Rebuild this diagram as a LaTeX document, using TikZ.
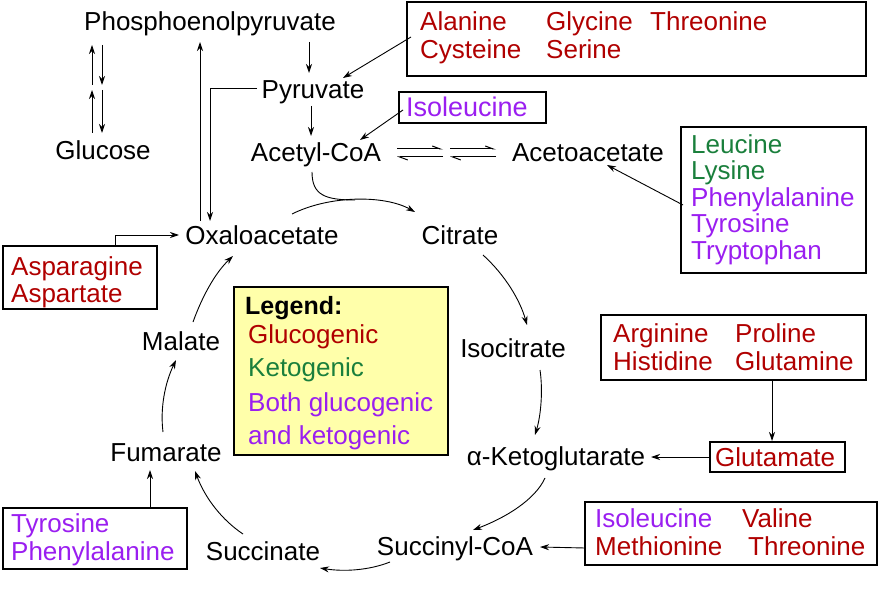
\documentclass[tikz,border=0pt]{standalone}
\usepackage{fontspec}
\setmainfont{Liberation Sans}
\usetikzlibrary{arrows.meta}
\definecolor{gr}{HTML}{B00000}
\definecolor{kt}{HTML}{1A7F3C}
\definecolor{bo}{HTML}{9A1EF0}
\definecolor{lg}{HTML}{FFFFAA}
\begin{document}
\begin{tikzpicture}[x=1pt,y=-1pt,
  every node/.style={font=\fontsize{26}{28}\selectfont,inner sep=0pt},
  t/.style={anchor=base},
  l/.style={anchor=base west},
  box/.style={draw,line width=1.2pt},
  a/.style={line width=0.9pt,-{Stealth[length=9pt,width=6pt]}},
  h/.style={line width=1pt,-{Straight Barb[left,length=8pt,width=6pt]}}]
\useasboundingbox (0,0) rectangle (886,596);
% metabolites
\node[t] (pep) at (210,31) {Phosphoenolpyruvate};
\node[t] (pyr) at (313,99) {Pyruvate};
\node[t] (acc) at (316,162) {Acetyl-CoA};
\node[t] (aca) at (588,162) {Acetoacetate};
\node[t] (glc) at (103,160) {Glucose};
\node[t] (oxa) at (262,244) {Oxaloacetate};
\node[t] (cit) at (460,244) {Citrate};
\node[t] (iso) at (513,357) {Isocitrate};
\node[t] (akg) at (556,465) {α-Ketoglutarate};
\node[t] (suc) at (455,555) {Succinyl-CoA};
\node[t] (sca) at (263,560) {Succinate};
\node[t] (fum) at (166,461) {Fumarate};
\node[t] (mal) at (181,350) {Malate};
% boxes
\draw[box] (407,2) rectangle (866,76);
\node[l,gr] (ala) at (420,31) {Alanine};
\node[l,gr] (gly) at (546,31) {Glycine};
\node[l,gr] (thr) at (650,31) {Threonine};
\node[l,gr] (cys) at (420,59) {Cysteine};
\node[l,gr] (ser) at (546,59) {Serine};
\draw[box] (399,92) rectangle (546,123);
\node[l,bo,font=\fontsize{27}{29}\selectfont] (ile1) at (406,117) {Isoleucine};
\draw[box] (681,127) rectangle (866,273);
\node[l,kt] (leu) at (691,154) {Leucine};
\node[l,kt] (lys) at (691,180) {Lysine};
\node[l,bo] (phe) at (691,207) {Phenylalanine};
\node[l,bo] (tyr) at (691,233) {Tyrosine};
\node[l,bo] (trp) at (691,259) {Tryptophan};
\draw[box] (3,246) rectangle (157,309);
\node[l,gr] (asn) at (11,275) {Asparagine};
\node[l,gr] (asp) at (11,302) {Aspartate};
\draw[box,fill=lg] (234,287) rectangle (448,455);
\node[l,font=\fontsize{25}{27}\selectfont\bfseries] (leg) at (245,314) {Legend:};
\node[l,gr] (lg1) at (248,343) {Glucogenic};
\node[l,kt] (lg2) at (248,376) {Ketogenic};
\node[l,bo] (lg3) at (248,411) {Both glucogenic};
\node[l,bo] (lg4) at (248,444) {and ketogenic};
\draw[box] (601,315) rectangle (866,380);
\node[l,gr] (arg) at (613,342) {Arginine};
\node[l,gr] (pro) at (735,342) {Proline};
\node[l,gr] (his) at (613,370) {Histidine};
\node[l,gr] (gln) at (735,370) {Glutamine};
\draw[box] (710,442) rectangle (845,472);
\node[l,gr] (glu) at (715,466) {Glutamate};
\draw[box] (585,502) rectangle (877,565);
\node[l,bo] (ile2) at (595,527) {Isoleucine};
\node[l,gr] (val) at (742,527) {Valine};
\node[l,gr] (met) at (595,555) {Methionine};
\node[l,gr] (thr2) at (748,555) {Threonine};
\draw[box] (3,508) rectangle (187,569);
\node[l,bo] (tyr2) at (11,532) {Tyrosine};
\node[l,bo] (phe2) at (11,560) {Phenylalanine};
% arrows
\draw[a] (309,42) -- (309,73);
\draw[a] (311,106) -- (311,136);
\draw[a] (257,88) -- (210,88) -- (210,221);
\draw[a] (200,221) -- (200,42);
\draw[a] (92,85) -- (92,45);
\draw[a] (102,45) -- (102,85);
\draw[a] (92,133) -- (92,90);
\draw[a] (102,90) -- (102,133);
\draw[a] (411,37) -- (343,78);
\draw[a] (403,110) -- (360,140);
\draw[h] (397,149) -- (443,149);
\draw[h] (443,157) -- (397,157);
\draw[h] (450,149) -- (496,149);
\draw[h] (496,157) -- (450,157);
\draw[a] (683,205) -- (607,165);
\draw[line width=0.9pt] (312,172) .. controls (312,195) and (325,200) .. (355,200);
\draw[a] (292,214) .. controls (330,195) and (385,195) .. (415,212);
\draw[a] (483,255) .. controls (505,275) and (520,300) .. (527,325);
\draw[a] (540,370) .. controls (543,390) and (541,415) .. (535,435);
\draw[a] (545,478) .. controls (535,500) and (505,518) .. (473,530);
\draw[a] (390,562) .. controls (370,570) and (345,572) .. (320,568);
\draw[a] (243,534) .. controls (222,520) and (205,498) .. (195,471);
\draw[a] (163,432) .. controls (160,408) and (165,383) .. (176,360);
\draw[a] (193,322) .. controls (202,297) and (215,273) .. (233,256);
\draw[a] (115,246) -- (115,235) -- (179,235);
\draw[a] (772,380) -- (772,441);
\draw[a] (710,457) -- (651,457);
\draw[a] (585,548) -- (540,547);
\draw[a] (150,508) -- (150,470);
\end{tikzpicture}
\end{document}
